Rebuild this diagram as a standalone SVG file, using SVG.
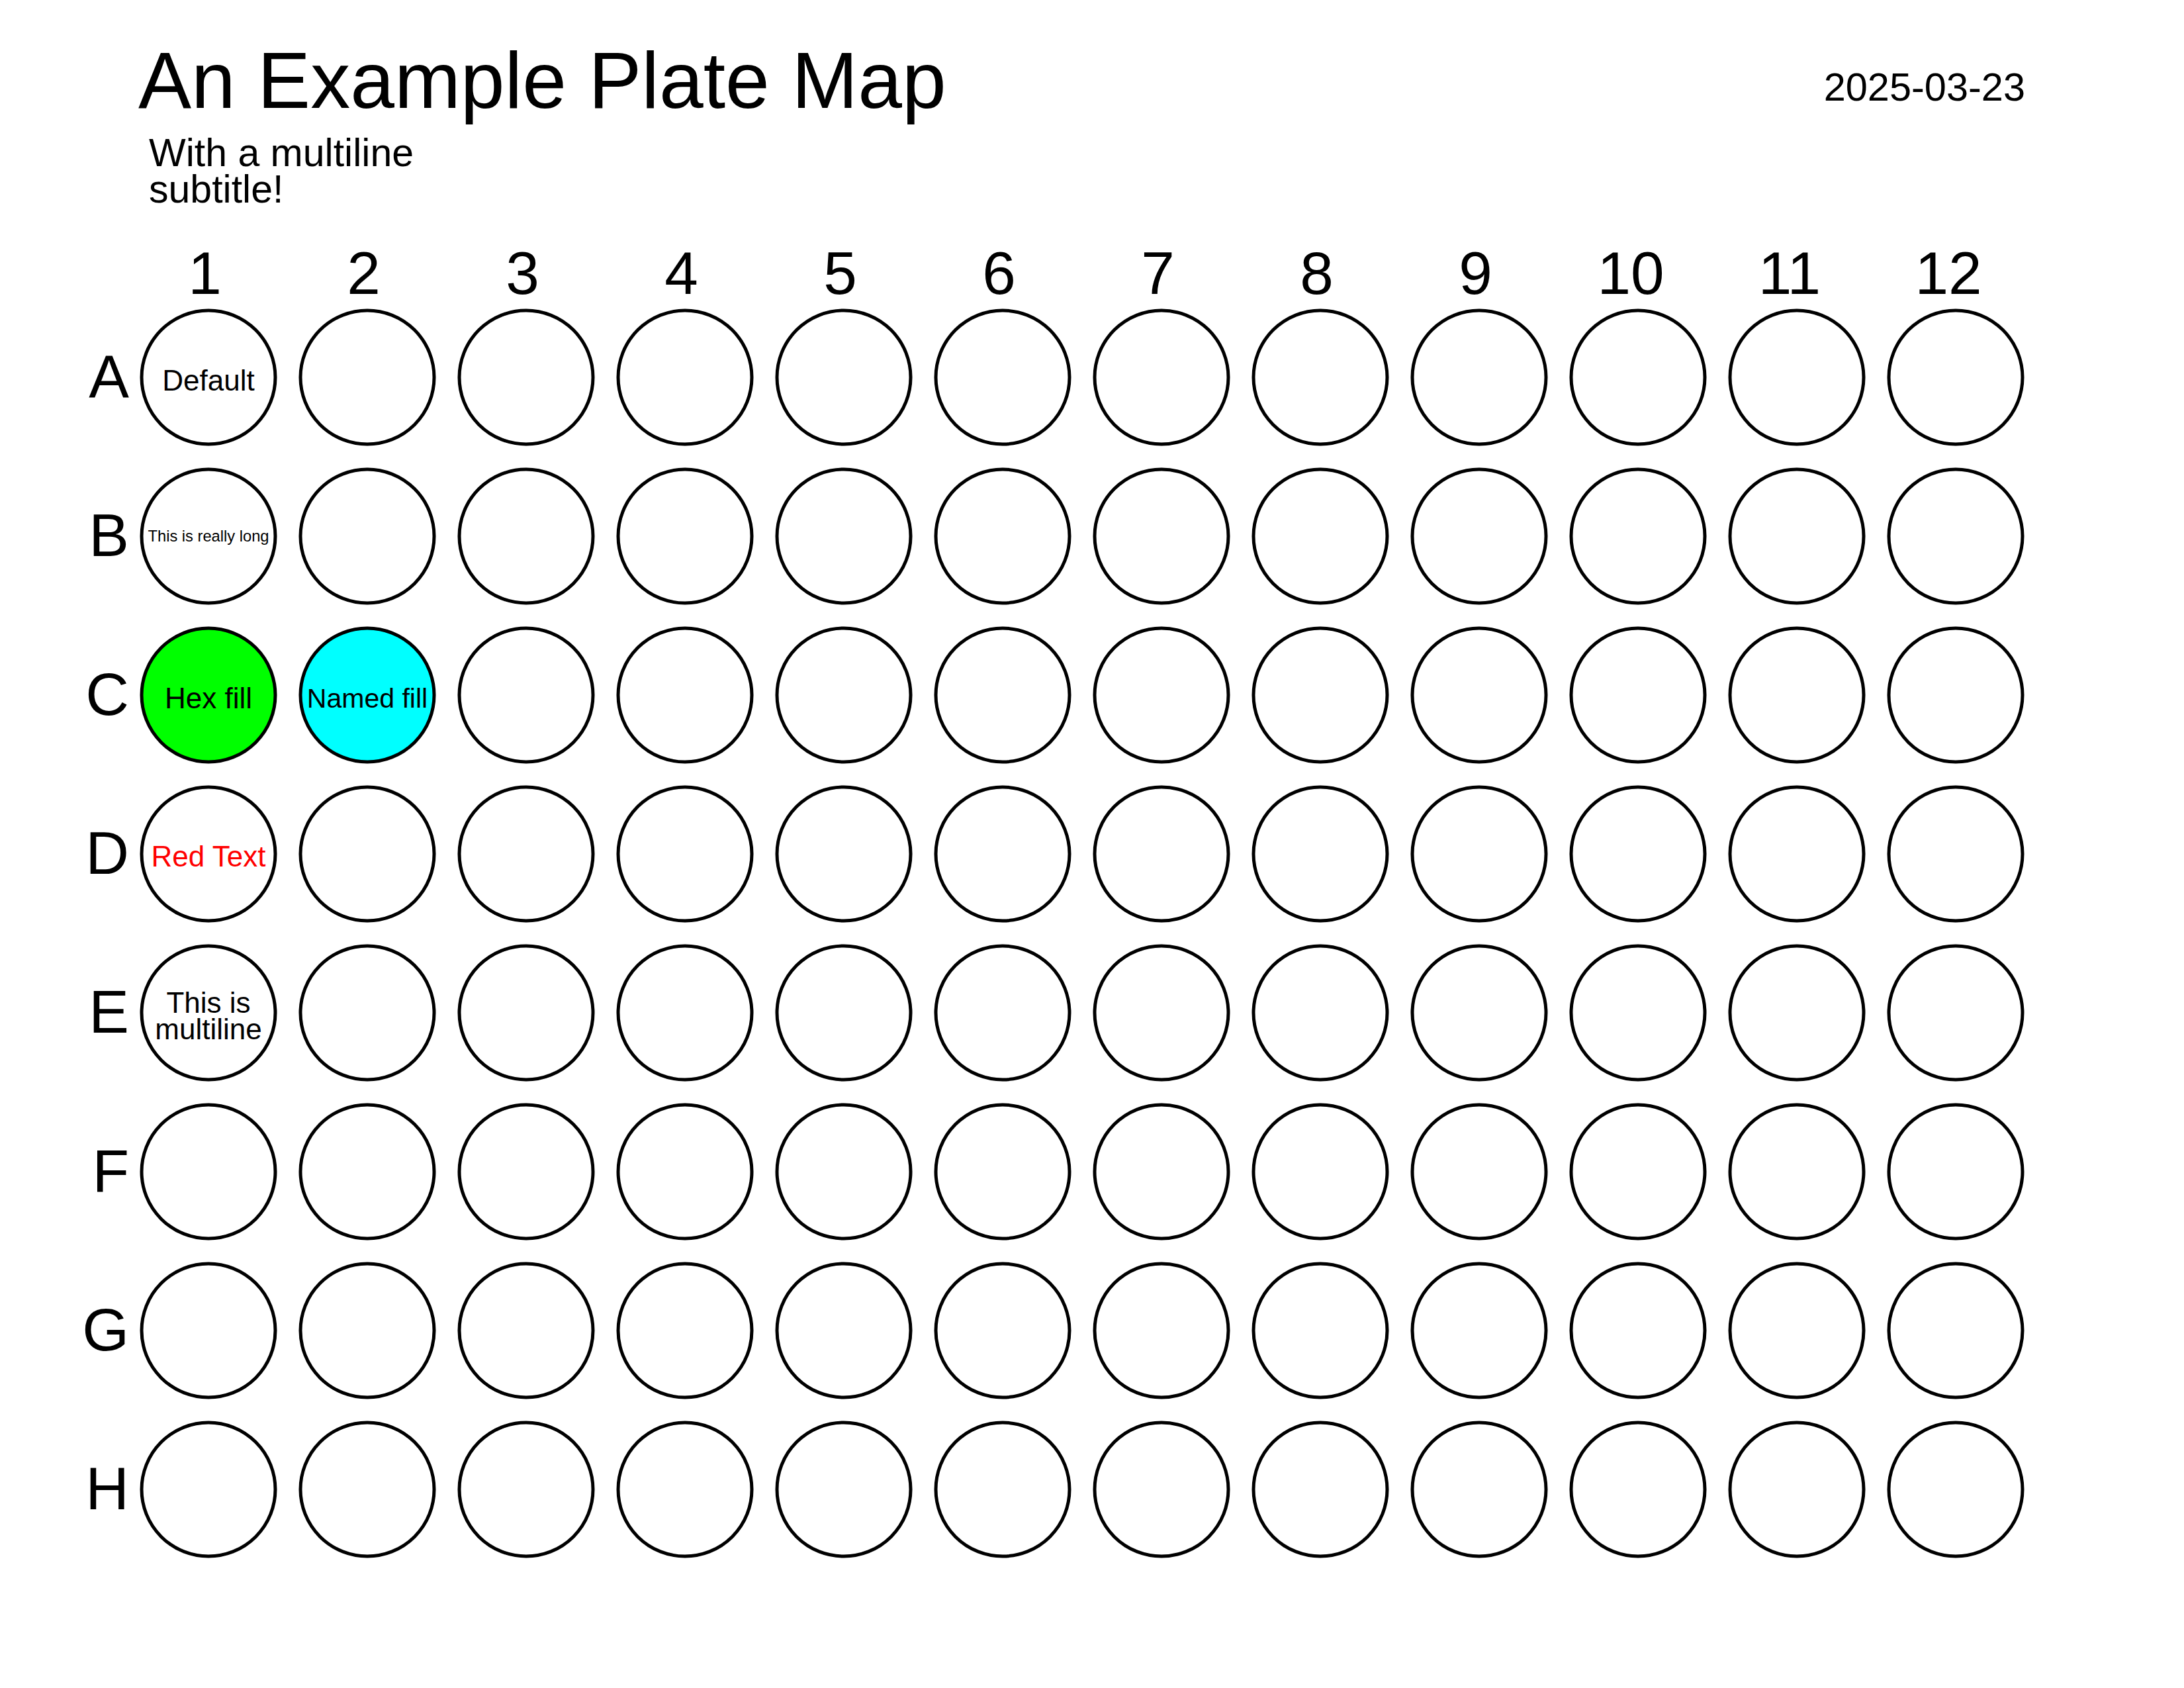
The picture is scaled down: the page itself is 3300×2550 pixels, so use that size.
<svg xmlns="http://www.w3.org/2000/svg" width="3300" height="2550" viewBox="0 0 3300 2550">
<style>
text{font-family:"Liberation Sans",Arial,Helvetica,sans-serif;fill:#000}
.well{fill:#fff;stroke:#000;stroke-width:5}
.col{font-size:91px;text-anchor:middle}
.row{font-size:91px;text-anchor:end}
.wl{font-size:44px;text-anchor:middle}
</style>
<rect width="3300" height="2550" fill="#fff"/>
<g id="header">
<text x="209" y="163" style="font-size:120px">An Example Plate Map</text>
<text x="225" y="250.7" style="font-size:59px">With a multiline</text>
<text x="225" y="305.7" style="font-size:59px">subtitle!</text>
<text x="3060" y="151.7" style="font-size:59.5px;text-anchor:end">2025-03-23</text>
</g>
<g id="column-labels">
<text class="col" x="309.5" y="444">1</text>
<text class="col" x="549.5" y="444">2</text>
<text class="col" x="789.5" y="444">3</text>
<text class="col" x="1029.5" y="444">4</text>
<text class="col" x="1269.5" y="444">5</text>
<text class="col" x="1509.5" y="444">6</text>
<text class="col" x="1749.5" y="444">7</text>
<text class="col" x="1989.5" y="444">8</text>
<text class="col" x="2229.5" y="444">9</text>
<text class="col" x="2464" y="444">10</text>
<text class="col" x="2704" y="444">11</text>
<text class="col" x="2944" y="444">12</text>
</g>
<g id="row-labels">
<text class="row" x="195" y="600">A</text>
<text class="row" x="195" y="840">B</text>
<text class="row" x="195" y="1080">C</text>
<text class="row" x="195" y="1320">D</text>
<text class="row" x="195" y="1560">E</text>
<text class="row" x="195" y="1800">F</text>
<text class="row" x="195" y="2040">G</text>
<text class="row" x="195" y="2280">H</text>
</g>
<defs>
<circle id="w" r="101" class="well"/>
</defs>
<g id="wells">
<g id="well-A1"><circle class="well" cx="315" cy="570" r="101"/><text class="wl" x="315" y="590">Default</text></g>
<g id="well-B1"><circle class="well" cx="315" cy="810" r="101"/><text class="wl" x="315" y="818.3" style="font-size:23.7px">This is really long</text></g>
<g id="well-C1"><circle class="well" cx="315" cy="1050" r="101" style="fill:#00ff00"/><text class="wl" x="315" y="1070">Hex fill</text></g>
<g id="well-C2"><circle class="well" cx="555" cy="1050" r="101" style="fill:#00ffff"/><text class="wl" x="555" y="1068.5" style="font-size:41px">Named fill</text></g>
<g id="well-D1"><circle class="well" cx="315" cy="1290" r="101"/><text class="wl" x="315" y="1309" style="fill:#ff0000">Red Text</text></g>
<g id="well-E1"><circle class="well" cx="315" cy="1530" r="101"/><text class="wl" x="315" y="1529.5">This is</text><text class="wl" x="315" y="1570">multiline</text></g>
<g id="row-A">
<use href="#w" x="555" y="570"/><use href="#w" x="795" y="570"/><use href="#w" x="1035" y="570"/><use href="#w" x="1275" y="570"/><use href="#w" x="1515" y="570"/><use href="#w" x="1755" y="570"/><use href="#w" x="1995" y="570"/><use href="#w" x="2235" y="570"/><use href="#w" x="2475" y="570"/><use href="#w" x="2715" y="570"/><use href="#w" x="2955" y="570"/>
</g>
<g id="row-B">
<use href="#w" x="555" y="810"/><use href="#w" x="795" y="810"/><use href="#w" x="1035" y="810"/><use href="#w" x="1275" y="810"/><use href="#w" x="1515" y="810"/><use href="#w" x="1755" y="810"/><use href="#w" x="1995" y="810"/><use href="#w" x="2235" y="810"/><use href="#w" x="2475" y="810"/><use href="#w" x="2715" y="810"/><use href="#w" x="2955" y="810"/>
</g>
<g id="row-C">
<use href="#w" x="795" y="1050"/><use href="#w" x="1035" y="1050"/><use href="#w" x="1275" y="1050"/><use href="#w" x="1515" y="1050"/><use href="#w" x="1755" y="1050"/><use href="#w" x="1995" y="1050"/><use href="#w" x="2235" y="1050"/><use href="#w" x="2475" y="1050"/><use href="#w" x="2715" y="1050"/><use href="#w" x="2955" y="1050"/>
</g>
<g id="row-D">
<use href="#w" x="555" y="1290"/><use href="#w" x="795" y="1290"/><use href="#w" x="1035" y="1290"/><use href="#w" x="1275" y="1290"/><use href="#w" x="1515" y="1290"/><use href="#w" x="1755" y="1290"/><use href="#w" x="1995" y="1290"/><use href="#w" x="2235" y="1290"/><use href="#w" x="2475" y="1290"/><use href="#w" x="2715" y="1290"/><use href="#w" x="2955" y="1290"/>
</g>
<g id="row-E">
<use href="#w" x="555" y="1530"/><use href="#w" x="795" y="1530"/><use href="#w" x="1035" y="1530"/><use href="#w" x="1275" y="1530"/><use href="#w" x="1515" y="1530"/><use href="#w" x="1755" y="1530"/><use href="#w" x="1995" y="1530"/><use href="#w" x="2235" y="1530"/><use href="#w" x="2475" y="1530"/><use href="#w" x="2715" y="1530"/><use href="#w" x="2955" y="1530"/>
</g>
<g id="row-F">
<use href="#w" x="315" y="1770"/><use href="#w" x="555" y="1770"/><use href="#w" x="795" y="1770"/><use href="#w" x="1035" y="1770"/><use href="#w" x="1275" y="1770"/><use href="#w" x="1515" y="1770"/><use href="#w" x="1755" y="1770"/><use href="#w" x="1995" y="1770"/><use href="#w" x="2235" y="1770"/><use href="#w" x="2475" y="1770"/><use href="#w" x="2715" y="1770"/><use href="#w" x="2955" y="1770"/>
</g>
<g id="row-G">
<use href="#w" x="315" y="2010"/><use href="#w" x="555" y="2010"/><use href="#w" x="795" y="2010"/><use href="#w" x="1035" y="2010"/><use href="#w" x="1275" y="2010"/><use href="#w" x="1515" y="2010"/><use href="#w" x="1755" y="2010"/><use href="#w" x="1995" y="2010"/><use href="#w" x="2235" y="2010"/><use href="#w" x="2475" y="2010"/><use href="#w" x="2715" y="2010"/><use href="#w" x="2955" y="2010"/>
</g>
<g id="row-H">
<use href="#w" x="315" y="2250"/><use href="#w" x="555" y="2250"/><use href="#w" x="795" y="2250"/><use href="#w" x="1035" y="2250"/><use href="#w" x="1275" y="2250"/><use href="#w" x="1515" y="2250"/><use href="#w" x="1755" y="2250"/><use href="#w" x="1995" y="2250"/><use href="#w" x="2235" y="2250"/><use href="#w" x="2475" y="2250"/><use href="#w" x="2715" y="2250"/><use href="#w" x="2955" y="2250"/>
</g>
</g>
</svg>
